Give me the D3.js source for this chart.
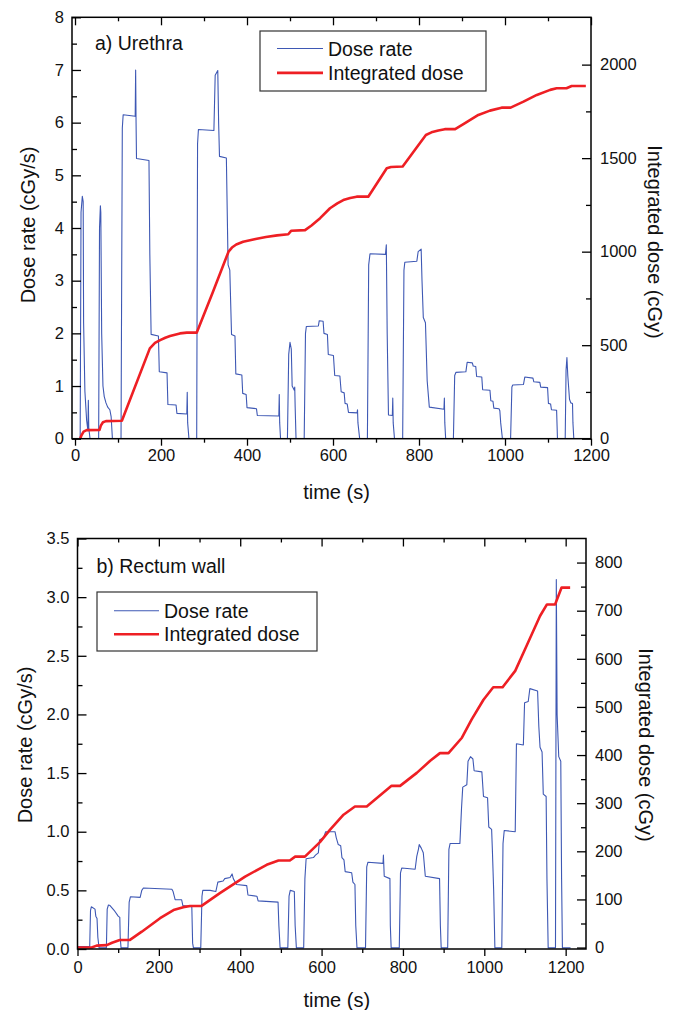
<!DOCTYPE html>
<html>
<head>
<meta charset="utf-8">
<script src="https://cdn.jsdelivr.net/npm/d3@7"></script>
<style>
  html, body { margin: 0; padding: 0; background: #fff; }
  svg { display: block; font-family: "Liberation Sans", Arial, sans-serif; }
</style>
</head>
<body>
<div id="chart"></div>
<script>
// ---- Data: [time (s), value] ----

// a) Urethra - dose rate (cGy/s)
const urethraRate = [
  [0,0],[12,0],[14,4.3],[17,4.6],[19,4.5],[20,2.2],[23,0.9],[27,0.35],[30,0.15],[31,0.73],[32,0.2],[35,0],
  [55,0],[57,4.0],[59,4.42],[60,4.3],[62,2.0],[65,1.0],[68,0.8],[72,0.68],[76,0.6],[81,0.55],[84,0.42],[87,0],
  [107,0],[110,5.9],[112,6.15],[140,6.12],[141,7.0],[142,6.0],[143,5.32],[172,5.28],[174,3.5],[177,1.98],
  [194,1.95],[196,1.27],[214,1.25],[216,0.65],[235,0.64],[237,0.48],[260,0.47],[261,0.88],[262,0.3],[265,0],
  [283,0],[285,5.6],[287,5.87],[323,5.85],[326,6.9],[332,6.99],[334,6.0],[336,5.36],[352,5.33],[356,3.3],
  [360,3.2],[364,1.98],[372,1.95],[374,1.23],[388,1.21],[390,0.86],[398,0.84],[400,0.59],[422,0.57],
  [424,0.44],[474,0.43],[475,0.84],[476,0.3],[478,0],
  [494,0],[497,1.6],[500,1.83],[503,1.7],[505,1.0],[510,0.92],[511,0.98],[512,0.6],[514,0],
  [533,0],[536,2.0],[538,2.13],[566,2.14],[568,2.24],[577,2.23],[579,2.0],[587,1.98],[589,1.6],[601,1.58],
  [604,1.2],[616,1.19],[619,0.89],[626,0.87],[628,0.67],[633,0.66],[636,0.5],[656,0.49],[657,0.55],[658,0.3],[662,0],
  [680,0],[683,3.3],[686,3.51],[722,3.5],[724,3.68],[726,2.0],[729,0.45],[738,0.44],[739,0.77],[740,0.3],[743,0],
  [762,0],[765,3.2],[767,3.35],[795,3.37],[798,3.55],[805,3.6],[807,3.0],[810,2.3],[815,2.2],[819,1.1],
  [824,0.6],[858,0.56],[859,0.77],[860,0.3],[862,0],
  [880,0],[883,1.2],[886,1.26],[909,1.27],[912,1.45],[924,1.44],[926,1.38],[932,1.37],[934,1.18],[946,1.17],
  [948,0.93],[965,0.92],[967,0.72],[972,0.71],[974,0.58],[986,0.57],[988,0.53],[990,0.3],[994,0],
  [1013,0],[1016,0.98],[1018,1.02],[1043,1.03],[1046,1.17],[1065,1.15],[1067,1.08],[1081,1.07],[1083,0.98],
  [1099,0.97],[1101,0.67],[1106,0.66],[1108,0.55],[1120,0.54],[1122,0],
  [1140,0],[1142,1.3],[1144,1.54],[1146,1.2],[1150,0.75],[1153,0.68],[1157,0.67],[1158,0.3],[1160,0],[1165,0]
];

// a) Urethra - integrated dose (cGy)
const urethraDose = [
  [12,0],[15,18],[20,38],[27,46],[57,47],[60,70],[65,88],[72,94],[109,96],[174,483],[186,512],[198,527],
  [210,540],[221,549],[244,563],[260,567],[283,567],[320,780],[357,1000],[365,1022],[375,1038],[391,1053],
  [420,1068],[444,1078],[470,1087],[496,1093],[503,1112],[535,1115],[550,1140],[570,1179],[593,1232],
  [610,1258],[624,1276],[640,1287],[655,1294],[682,1294],[725,1446],[735,1453],[762,1455],[816,1624],
  [829,1638],[845,1648],[860,1655],[884,1655],[907,1687],[938,1731],[965,1754],[992,1770],[1013,1770],
  [1043,1802],[1074,1838],[1105,1865],[1120,1874],[1143,1874],[1155,1886],[1188,1886]
];

// b) Rectum wall - dose rate (cGy/s)
const rectumRate = [
  [0,0.02],[30,0.02],[32,0.33],[34,0.36],[43,0.34],[45,0.28],[48,0.26],[50,0.1],[53,0.01],
  [71,0.01],[73,0.34],[76,0.375],[80,0.37],[90,0.33],[100,0.28],[104,0.27],[105,0.1],[107,0.01],
  [124,0.01],[127,0.4],[130,0.445],[154,0.44],[158,0.5],[162,0.52],[232,0.51],[235,0.49],[240,0.42],
  [256,0.42],[259,0.37],[281,0.36],[283,0.05],[285,0.01],
  [303,0.01],[306,0.45],[308,0.5],[326,0.5],[340,0.49],[345,0.57],[358,0.58],[362,0.6],[375,0.61],
  [380,0.64],[383,0.6],[391,0.55],[416,0.54],[419,0.46],[441,0.45],[444,0.41],[493,0.4],[495,0.2],[498,0.01],
  [517,0.01],[520,0.45],[523,0.5],[533,0.49],[535,0.2],[538,0.01],
  [556,0.01],[559,0.6],[562,0.77],[580,0.78],[585,0.8],[592,0.82],[595,0.93],[605,0.95],[610,1.0],
  [633,1.0],[636,0.95],[641,0.89],[647,0.88],[650,0.78],[655,0.76],[658,0.66],[674,0.65],[677,0.57],
  [682,0.55],[684,0.2],[687,0.01],
  [708,0.01],[711,0.7],[714,0.74],[751,0.73],[752,0.8],[754,0.62],[768,0.6],[769,0.2],[771,0.01],
  [791,0.01],[794,0.65],[797,0.69],[830,0.68],[834,0.79],[838,0.85],[840,0.89],[845,0.86],[850,0.82],
  [855,0.62],[890,0.6],[892,0.2],[894,0.01],
  [910,0.01],[913,0.85],[916,0.9],[940,0.9],[944,1.2],[947,1.38],[957,1.4],[960,1.6],[966,1.64],
  [972,1.62],[975,1.52],[994,1.51],[998,1.3],[1008,1.29],[1011,1.04],[1018,1.02],[1020,0.83],[1023,0.5],[1026,0.01],
  [1043,0.01],[1046,0.9],[1049,1.01],[1076,1.0],[1079,1.75],[1096,1.74],[1099,2.1],[1108,2.11],[1112,2.22],
  [1131,2.2],[1134,1.9],[1137,1.72],[1142,1.68],[1145,1.32],[1152,1.3],[1154,0.6],[1157,0.01],
  [1175,0.01],[1177,3.15],[1179,2.0],[1183,1.64],[1188,1.6],[1190,0.6],[1192,0.01],[1212,0.01]
];

// b) Rectum wall - integrated dose (cGy)
const rectumDose = [
  [0,0],[35,0],[47,4],[72,5],[85,10],[104,15.6],[129,16],[158,33],[203,61],[236,78],[260,84],[277,86.5],
  [305,86.5],[350,113],[412,147.5],[465,172],[494,181],[522,181],[535,189],[559,189],[596,219],[621,245],
  [654,276],[682,293],[711,293],[772,336],[793,336],[834,363],[867,388],[891,404],[912,404],[945,436],
  [969,474],[998,515],[1022,541],[1045,541],[1076,575],[1104,627],[1137,689],[1154,713],[1174,713],
  [1190,748],[1211,748]
];

// tick values
const urethraXTicks = [0, 200, 400, 600, 800, 1000, 1200];
const urethraLeftTicks = [0, 1, 2, 3, 4, 5, 6, 7, 8];
const urethraRightTicks = [0, 500, 1000, 1500, 2000];
const rectumXTicks = [0, 200, 400, 600, 800, 1000, 1200];
const rectumLeftTicks = [0, 0.5, 1.0, 1.5, 2.0, 2.5, 3.0, 3.5];
const rectumRightTicks = [0, 100, 200, 300, 400, 500, 600, 700, 800];

const legendLabels = ["Dose rate", "Integrated dose"];

const BLUE = "#3e58b4";
const RED = "#ee1f24";
const FONT_TICK = 16.5;
const FONT_TEXT = 19.5;

const svg = d3.select("#chart").append("svg")
  .attr("width", 681)
  .attr("height", 1010);

// minor ticks halfway between majors
function halfSteps(ticks) {
  const out = [];
  for (let i = 0; i < ticks.length - 1; i++) out.push((ticks[i] + ticks[i + 1]) / 2);
  return out;
}

function drawPanel(cfg) {
  const x = d3.scaleLinear().domain(cfg.xDomain).range([cfg.left, cfg.right]);
  const yL = d3.scaleLinear().domain(cfg.yLeftDomain).range([cfg.bottom, cfg.top]);
  const yR = d3.scaleLinear().domain(cfg.yRightDomain).range([cfg.bottom, cfg.top]);

  const g = svg.append("g");
  const clipId = "clip-" + cfg.id;

  g.append("clipPath").attr("id", clipId)
    .append("rect")
    .attr("x", cfg.left).attr("y", cfg.top - 2)
    .attr("width", cfg.right - cfg.left).attr("height", cfg.bottom - cfg.top + 2);

  // data lines
  const lineL = d3.line().x(d => x(d[0])).y(d => yL(d[1]));
  const lineR = d3.line().x(d => x(d[0])).y(d => yR(d[1]));

  g.append("path")
    .datum(cfg.rate)
    .attr("clip-path", `url(#${clipId})`)
    .attr("fill", "none")
    .attr("stroke", BLUE)
    .attr("stroke-width", 1.1)
    .attr("stroke-linejoin", "round")
    .attr("d", lineL);

  g.append("path")
    .datum(cfg.dose)
    .attr("clip-path", `url(#${clipId})`)
    .attr("fill", "none")
    .attr("stroke", RED)
    .attr("stroke-width", 2.6)
    .attr("stroke-linejoin", "round")
    .attr("d", lineR);

  const styleAxis = sel => {
    sel.select(".domain").remove();
    sel.selectAll(".tick line").attr("stroke", "#000").attr("stroke-width", 1.3);
    sel.selectAll(".tick text")
      .attr("fill", "#111")
      .style("font-size", FONT_TICK + "px")
      .style("font-family", "'Liberation Sans', Arial, sans-serif");
  };

  // bottom axis: ticks outward
  g.append("g").attr("transform", `translate(0,${cfg.bottom})`)
    .call(d3.axisBottom(x).tickValues(cfg.xTicks).tickSize(7).tickPadding(cfg.xPad).tickFormat(d3.format("d")))
    .call(styleAxis);
  g.append("g").attr("transform", `translate(0,${cfg.bottom})`)
    .call(d3.axisBottom(x).tickValues(halfSteps(cfg.xTicks)).tickSize(4).tickFormat(""))
    .call(styleAxis);

  // top mirror ticks: inward
  g.append("g").attr("transform", `translate(0,${cfg.top})`)
    .call(d3.axisTop(x).tickValues(cfg.xTicks).tickSize(-8).tickFormat(""))
    .call(styleAxis);
  g.append("g").attr("transform", `translate(0,${cfg.top})`)
    .call(d3.axisTop(x).tickValues(halfSteps(cfg.xTicks)).tickSize(-4).tickFormat(""))
    .call(styleAxis);

  // left axis: ticks inward
  g.append("g").attr("transform", `translate(${cfg.left},0)`)
    .call(d3.axisLeft(yL).tickValues(cfg.leftTicks).tickSize(-9).tickPadding(8).tickFormat(d3.format(cfg.leftFormat)))
    .call(styleAxis);
  g.append("g").attr("transform", `translate(${cfg.left},0)`)
    .call(d3.axisLeft(yL).tickValues(halfSteps(cfg.leftTicks)).tickSize(-5).tickFormat(""))
    .call(styleAxis);

  // right axis: ticks inward
  g.append("g").attr("transform", `translate(${cfg.right},0)`)
    .call(d3.axisRight(yR).tickValues(cfg.rightTicks).tickSize(-9).tickPadding(9).tickFormat(d3.format("d")))
    .call(styleAxis);
  g.append("g").attr("transform", `translate(${cfg.right},0)`)
    .call(d3.axisRight(yR).tickValues(halfSteps(cfg.rightTicks)).tickSize(-5).tickFormat(""))
    .call(styleAxis);

  // frame
  g.append("rect")
    .attr("x", cfg.left).attr("y", cfg.top)
    .attr("width", cfg.right - cfg.left).attr("height", cfg.bottom - cfg.top)
    .attr("fill", "none")
    .attr("stroke", "#000")
    .attr("stroke-width", 1.5);

  // axis titles
  g.append("text")
    .attr("x", (cfg.left + cfg.right) / 2 + 5)
    .attr("y", cfg.xTitleY)
    .attr("text-anchor", "middle")
    .style("font-size", "20px")
    .attr("fill", "#111")
    .text("time (s)");

  g.append("text")
    .attr("transform", `translate(${cfg.leftTitleX},${cfg.leftTitleCY}) rotate(-90)`)
    .attr("text-anchor", "middle")
    .style("font-size", "20px")
    .attr("fill", "#111")
    .text("Dose rate (cGy/s)");

  g.append("text")
    .attr("transform", `translate(${cfg.rightTitleX},${cfg.rightTitleCY}) rotate(90)`)
    .attr("text-anchor", "middle")
    .style("font-size", "20px")
    .attr("fill", "#111")
    .text("Integrated dose (cGy)");

  // panel label
  g.append("text")
    .attr("x", cfg.labelX).attr("y", cfg.labelY)
    .style("font-size", FONT_TEXT + "px")
    .attr("fill", "#111")
    .text(cfg.label);

  // legend
  const lg = cfg.legend;
  g.append("rect")
    .attr("x", lg.x).attr("y", lg.y)
    .attr("width", lg.w).attr("height", lg.h)
    .attr("fill", "#fff")
    .attr("stroke", "#333")
    .attr("stroke-width", 1.2);

  const entries = [
    { label: legendLabels[0], color: BLUE, width: 1.1 },
    { label: legendLabels[1], color: RED, width: 2.6 }
  ];
  entries.forEach((e, i) => {
    const cy = lg.y + lg.firstRow + i * lg.rowGap;
    g.append("line")
      .attr("x1", lg.x + lg.lineStart).attr("x2", lg.x + lg.lineEnd)
      .attr("y1", cy).attr("y2", cy)
      .attr("stroke", e.color)
      .attr("stroke-width", e.width);
    g.append("text")
      .attr("x", lg.x + lg.textX)
      .attr("y", cy + 7)
      .style("font-size", FONT_TEXT + "px")
      .attr("fill", "#111")
      .text(e.label);
  });
}

drawPanel({
  id: "a",
  left: 72, right: 591, top: 17.3, bottom: 438.7,
  xDomain: [-7, 1200],
  yLeftDomain: [0, 8],
  yRightDomain: [0, 2253],
  xTicks: urethraXTicks, leftTicks: urethraLeftTicks, rightTicks: urethraRightTicks,
  leftFormat: "d",
  xPad: 4,
  rate: urethraRate, dose: urethraDose,
  xTitleY: 499,
  leftTitleX: 35, leftTitleCY: 225,
  rightTitleX: 648, rightTitleCY: 242,
  label: "a) Urethra", labelX: 95, labelY: 50,
  legend: { x: 260, y: 31, w: 226, h: 60, firstRow: 17.5, rowGap: 24.4, lineStart: 17, lineEnd: 63, textX: 68 }
});

drawPanel({
  id: "b",
  left: 77.5, right: 586, top: 538.5, bottom: 949,
  xDomain: [0, 1250],
  yLeftDomain: [0, 3.5],
  yRightDomain: [-3, 850],
  xTicks: rectumXTicks, leftTicks: rectumLeftTicks, rightTicks: rectumRightTicks,
  leftFormat: ".1f",
  xPad: 5,
  rate: rectumRate, dose: rectumDose,
  xTitleY: 1007,
  leftTitleX: 32, leftTitleCY: 745,
  rightTitleX: 639, rightTitleCY: 745,
  label: "b) Rectum wall", labelX: 96.5, labelY: 573,
  legend: { x: 97, y: 592, w: 220, h: 59, firstRow: 18.7, rowGap: 23.6, lineStart: 17, lineEnd: 62, textX: 67 }
});
</script>
</body>
</html>
